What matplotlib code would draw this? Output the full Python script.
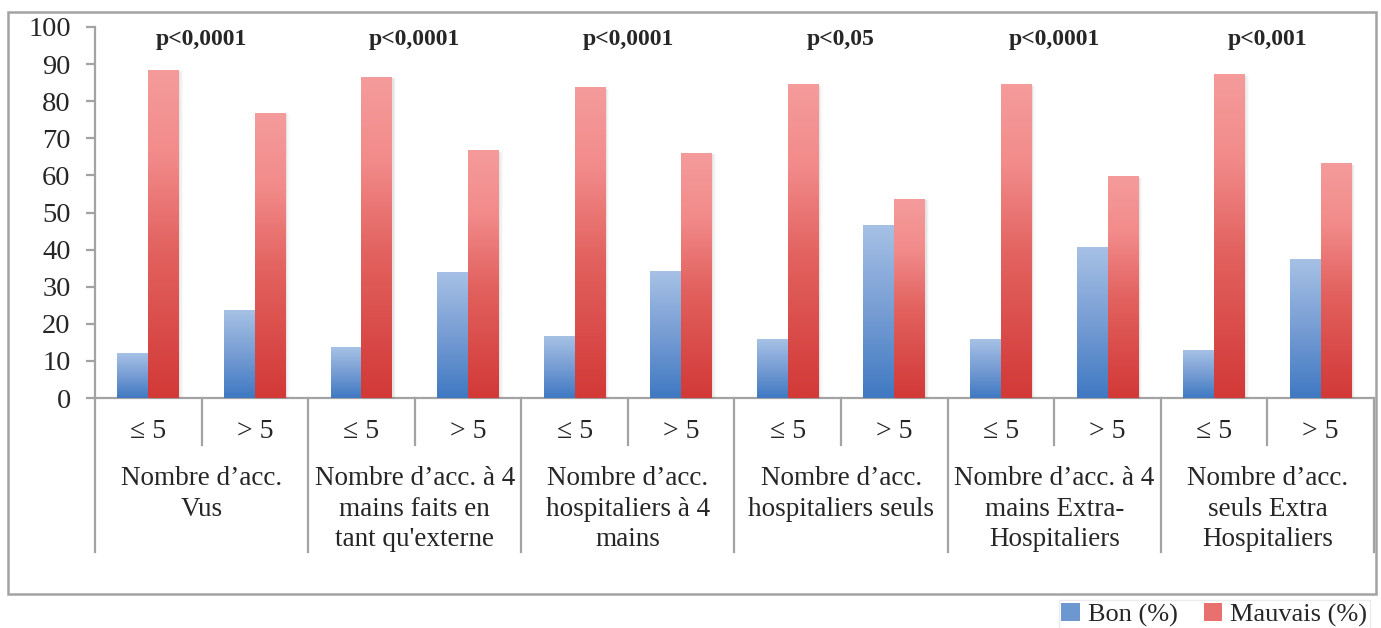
import numpy as np
import matplotlib.pyplot as plt
from matplotlib.colors import LinearSegmentedColormap
from matplotlib.patches import Rectangle, Patch
from matplotlib.transforms import blended_transform_factory

plt.rcParams['font.family'] = ['Liberation Serif', 'DejaVu Serif']

# data
groups = ["Nombre d\u2019acc.\nVus",
          "Nombre d\u2019acc. \u00e0 4\nmains faits en\ntant qu'externe",
          "Nombre d\u2019acc.\nhospitaliers \u00e0 4\nmains",
          "Nombre d\u2019acc.\nhospitaliers seuls",
          "Nombre d\u2019acc. \u00e0 4\nmains Extra-\nHospitaliers",
          "Nombre d\u2019acc.\nseuls Extra\nHospitaliers"]
sub_labels = ['\u2264 5', '> 5']
p_values = ['p<0,0001', 'p<0,0001', 'p<0,0001', 'p<0,05', 'p<0,0001', 'p<0,001']
bon = [12, 23.5, 13.7, 33.7, 16.7, 34.2, 15.9, 46.4, 15.9, 40.7, 12.9, 37.2]
mauvais = [88.4, 76.8, 86.5, 66.6, 83.6, 66.0, 84.4, 53.6, 84.4, 59.6, 87.1, 63.1]

W, H = 1381, 628
fig = plt.figure(figsize=(W / 100, H / 100), dpi=100)
# axes placed in pixel terms
ax = fig.add_axes([95 / W, 1 - 398 / H, (1374 - 95) / W, (398 - 27) / H])

blue_cmap = LinearSegmentedColormap.from_list('b', [(0, '#3f79c2'), (0.5, '#779dd4'), (1, '#a6c1e5')])
red_cmap = LinearSegmentedColormap.from_list('r', [(0, '#d23937'), (0.45, '#e2625f'), (0.75, '#f28c8b'), (1, '#f59b9b')])

x = np.arange(len(bon))
bw = 0.29
grad = np.linspace(1, 0, 256).reshape(-1, 1)

def gradient_bars(xs, vals, cmap, z):
    bars = ax.bar(xs, vals, bw, facecolor='none', edgecolor='none', zorder=z)
    for b in bars:
        x0, w, h = b.get_x(), b.get_width(), b.get_height()
        # soft shadow on the right side
        for k, a in enumerate([0.10, 0.07, 0.04]):
            ax.add_patch(Rectangle((x0 + 0.012 * (k + 1), -0.3), w, h, facecolor='#808080',
                                   alpha=a, edgecolor='none', zorder=z - 1, clip_on=False))
        ax.imshow(grad, extent=[x0, x0 + w, 0, h], aspect='auto', cmap=cmap,
                  vmin=0, vmax=1, zorder=z)
    return bars

gradient_bars(x - bw / 2, bon, blue_cmap, 3)
gradient_bars(x + bw / 2, mauvais, red_cmap, 4)

ax.set_xlim(-0.5, len(bon) - 0.5)
ax.set_ylim(0, 100)
ax.set_yticks(range(0, 101, 10))
ax.set_xticks([])
axis_col = '#a3a3a3'
text_col = '#262626'
for s in ['top', 'right']:
    ax.spines[s].set_visible(False)
for s in ['left', 'bottom']:
    ax.spines[s].set_color(axis_col)
    ax.spines[s].set_linewidth(1.6)
ax.tick_params(axis='y', direction='out', length=6.5, width=1.6, color=axis_col,
               labelsize=20.5, labelcolor=text_col, pad=11)

# two-level category axis below the plot
tr = blended_transform_factory(ax.transData, fig.transFigure)
fy = lambda py: 1 - py / H
for k in range(len(bon) + 1):
    xe = k - 0.5
    bottom = 552 if k % 2 == 0 else 445
    ax.plot([xe, xe], [fy(398), fy(bottom)], color=axis_col, lw=1.6,
            transform=tr, clip_on=False)
for i in x:
    ax.text(i, fy(431), sub_labels[i % 2], transform=tr, ha='center', va='center',
            fontsize=20, color=text_col)
for g, lab in enumerate(groups):
    ax.text(2 * g + 0.5, fy(466), lab, transform=tr, ha='center', va='top',
            fontsize=19.5, color=text_col, linespacing=1.3)
    ax.text(2 * g + 0.5, fy(40), p_values[g], transform=tr, ha='center', va='center',
            fontsize=17, fontweight='bold', color=text_col)

# outer chart frame
fig.patches.append(Rectangle((8 / W, fy(594)), (1376 - 8) / W, (594 - 12) / H,
                             transform=fig.transFigure, fill=False,
                             edgecolor=axis_col, lw=1.8))

handles = [Patch(facecolor='#6d97d1', edgecolor='none', label='Bon (%)'),
           Patch(facecolor='#e8716f', edgecolor='none', label='Mauvais (%)')]
leg = fig.legend(handles=handles, loc='upper right', bbox_to_anchor=(1370 / W, fy(600)),
                 ncol=2, fontsize=19, frameon=True, fancybox=False,
                 handlelength=0.7, handleheight=0.7, handletextpad=0.3,
                 columnspacing=1.0, borderpad=0.1, borderaxespad=0)
leg.get_frame().set_edgecolor('#e6e6e6')
leg.get_frame().set_linewidth(1)
for t in leg.get_texts():
    t.set_color(text_col)

fig.savefig('out.png', dpi=100)
